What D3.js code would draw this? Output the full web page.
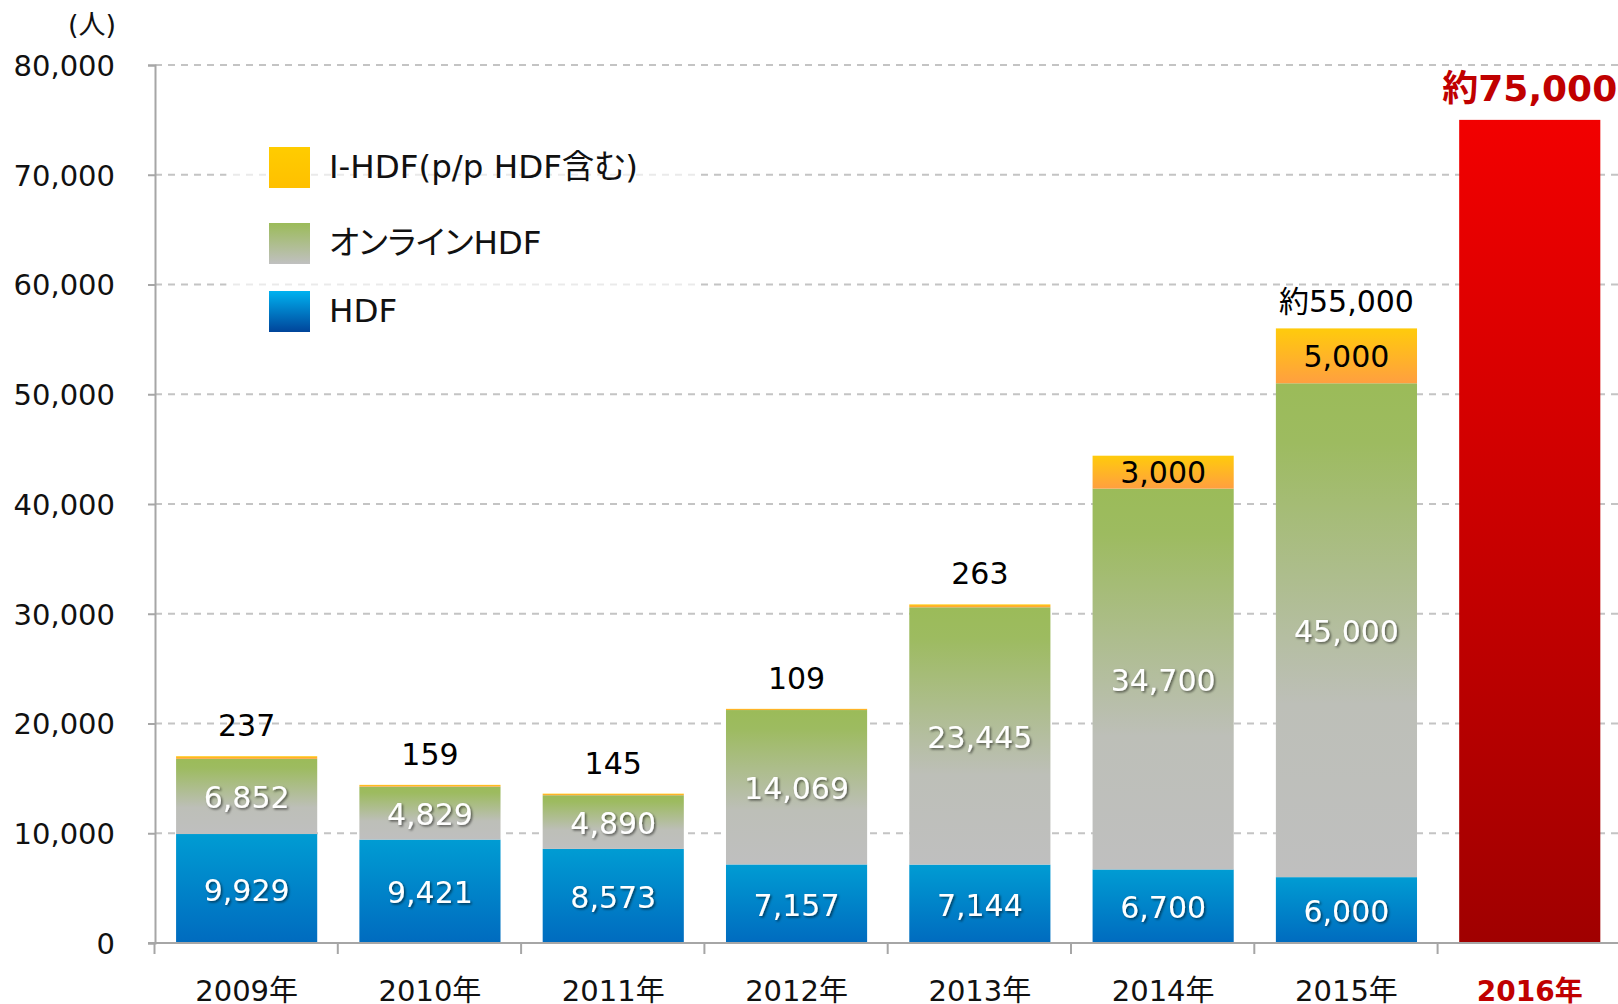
<!DOCTYPE html>
<html>
<head>
<meta charset="utf-8">
<script src="https://cdn.jsdelivr.net/npm/d3@7"></script>
<style>
body { margin: 0; background: #fff; }
svg { display: block; font-family: "DejaVu Sans", "Noto Sans CJK JP", sans-serif; }
.ley text { font-feature-settings: "palt"; }
</style>
</head>
<body>
<div id="grafica"></div>
<script>
// datos (人)
var years = ["2009年", "2010年", "2011年", "2012年", "2013年", "2014年", "2015年"];
var hdf = [9929, 9421, 8573, 7157, 7144, 6700, 6000];
var online = [6852, 4829, 4890, 14069, 23445, 34700, 45000];
var ihdf = [237, 159, 145, 109, 263, 3000, 5000];
var forecastYear = "2016年";
var forecastValue = 75000;
var forecastLabel = "約75,000";
var totalLabels = ["", "", "", "", "", "", "約55,000"];
var yTicks = [0, 10000, 20000, 30000, 40000, 50000, 60000, 70000, 80000];
var seriesNames = ["I-HDF(p/p HDF含む)", "オンラインHDF", "HDF"];

var W = 1618, H = 1004;
var x0 = 155, y0 = 943, yTop = 65;
var step = 183.3;
var fuente = "'DejaVu Sans', 'Noto Sans CJK JP', sans-serif";

var svg = d3.select("#grafica")
	.append("svg")
	.attr("width", W)
	.attr("height", H)
	.attr("id", "svgraf");

var allYears = years.concat([forecastYear]);
var x = d3.scaleBand()
	.domain(allYears)
	.range([x0, x0 + step * allYears.length])
	.paddingInner(0.23)
	.paddingOuter(0.115);
var y = d3.scaleLinear().domain([0, 80000]).range([y0, yTop]);

// gradientes
var defs = svg.append("defs");
function grad(id, stops) {
	var g = defs.append("linearGradient").attr("id", id)
		.attr("x1", 0).attr("y1", 0).attr("x2", 0).attr("y2", 1);
	stops.forEach(function (s) {
		g.append("stop").attr("offset", s[0]).attr("stop-color", s[1]);
	});
}
grad("gHdf", [[0, "#009cd3"], [1, "#006bbf"]]);
grad("gOnline", [[0, "#9bbb59"], [0.12, "#9dbb60"], [0.65, "#bdbfb8"], [1, "#bfbfbf"]]);
grad("gIhdf", [[0, "#ffcb0c"], [1, "#ff9f40"]]);
grad("gRed", [[0, "#f20000"], [1, "#a00000"]]);
grad("lHdf", [[0, "#00b2f0"], [1, "#00449a"]]);
grad("lOnline", [[0, "#9bbb59"], [1, "#c0c0c0"]]);
grad("lIhdf", [[0, "#ffcc00"], [1, "#ffc000"]]);

var sh = defs.append("filter").attr("id", "sombra")
	.attr("x", "-20%").attr("y", "-20%").attr("width", "140%").attr("height", "140%");
sh.append("feDropShadow").attr("dx", 1.5).attr("dy", 1.5)
	.attr("stdDeviation", 1).attr("flood-color", "#000").attr("flood-opacity", 0.55);

// rejilla
svg.append("g").selectAll("line")
	.data(yTicks.slice(1))
	.join("line")
	.attr("x1", x0).attr("x2", W)
	.attr("y1", function (d) { return y(d); })
	.attr("y2", function (d) { return y(d); })
	.attr("stroke", "#c4c4c4")
	.attr("stroke-width", 2)
	.attr("stroke-dasharray", "7,6");

// eje y
var yAxis = svg.append("g")
	.attr("transform", "translate(" + x0 + ",0)")
	.call(d3.axisLeft(y).tickValues(yTicks).tickSize(7).tickPadding(33)
		.tickFormat(d3.format(",")));
yAxis.select(".domain").attr("stroke", "#a6a6a6").attr("stroke-width", 2);
yAxis.selectAll(".tick line").attr("stroke", "#a6a6a6").attr("stroke-width", 2);
yAxis.selectAll(".tick text")
	.attr("font-size", 29)
	.attr("font-family", fuente)
	.attr("fill", "#111")
	.attr("dy", "0.36em");
svg.append("text")
	.attr("x", 116).attr("y", 34)
	.attr("text-anchor", "end")
	.attr("font-size", 27)
	.attr("fill", "#111")
	.text("(人)");

// barras apiladas
var rows = years.map(function (yr, i) {
	return { year: yr, hdf: hdf[i], online: online[i], ihdf: ihdf[i] };
});
var stack = d3.stack().keys(["hdf", "online", "ihdf"])(rows);
var fills = { hdf: "url(#gHdf)", online: "url(#gOnline)", ihdf: "url(#gIhdf)" };

var capas = svg.append("g").selectAll("g")
	.data(stack)
	.join("g")
	.attr("fill", function (s) { return fills[s.key]; });
capas.selectAll("rect")
	.data(function (s) { return s; })
	.join("rect")
	.attr("x", function (d) { return x(d.data.year); })
	.attr("width", x.bandwidth())
	.attr("y", function (d) { return y(d[1]); })
	.attr("height", function (d) { return y(d[0]) - y(d[1]); });

// barra 2016
svg.append("rect")
	.attr("x", x(forecastYear))
	.attr("width", x.bandwidth())
	.attr("y", y(forecastValue))
	.attr("height", y(0) - y(forecastValue))
	.attr("fill", "url(#gRed)");

// eje x
var xAxisG = svg.append("g");
xAxisG.append("line")
	.attr("x1", x0 - 7).attr("x2", W)
	.attr("y1", y0).attr("y2", y0)
	.attr("stroke", "#a6a6a6").attr("stroke-width", 2);
xAxisG.selectAll("line.tk")
	.data(allYears)
	.join("line")
	.attr("class", "tk")
	.attr("x1", function (d) { return x(d) - x.step() * x.paddingInner() / 2 - 0.5; })
	.attr("x2", function (d) { return x(d) - x.step() * x.paddingInner() / 2 - 0.5; })
	.attr("y1", y0).attr("y2", y0 + 11)
	.attr("stroke", "#a6a6a6").attr("stroke-width", 2);
xAxisG.selectAll("text")
	.data(allYears)
	.join("text")
	.attr("x", function (d) { return x(d) + x.bandwidth() / 2; })
	.attr("y", 1001)
	.attr("text-anchor", "middle")
	.attr("font-size", function (d) { return d === forecastYear ? 28 : 29; })
	.attr("font-weight", function (d) { return d === forecastYear ? "bold" : "normal"; })
	.attr("fill", function (d) { return d === forecastYear ? "#c00000" : "#111"; })
	.text(function (d) { return d; });

// etiquetas de valores
var fmt = d3.format(",");
var cx = function (d) { return x(d.data.year) + x.bandwidth() / 2; };
var etiq = svg.append("g").attr("text-anchor", "middle").attr("font-size", 30);

stack.forEach(function (s) {
	s.forEach(function (d) {
		var v = d[1] - d[0];
		var mid = (y(d[0]) + y(d[1])) / 2;
		if (s.key === "ihdf") {
			if (v >= 1000) {
				etiq.append("text").attr("x", cx(d)).attr("y", mid + 11)
					.attr("fill", "#000").text(fmt(v));
			} else {
				etiq.append("text").attr("x", cx(d)).attr("y", y(d[1]) - 20)
					.attr("fill", "#000").text(fmt(v));
			}
		} else {
			etiq.append("text").attr("x", cx(d)).attr("y", mid + 12)
				.attr("fill", "#fff").attr("filter", "url(#sombra)").text(fmt(v));
		}
	});
});
stack[2].forEach(function (d, i) {
	if (totalLabels[i]) {
		etiq.append("text").attr("x", cx(d)).attr("y", y(d[1]) - 16)
			.attr("fill", "#000").text(totalLabels[i]);
	}
});
svg.append("text")
	.attr("x", x(forecastYear) + x.bandwidth() / 2)
	.attr("y", y(forecastValue) - 19)
	.attr("text-anchor", "middle")
	.attr("font-size", 36)
	.attr("font-weight", "bold")
	.attr("fill", "#c00000")
	.text(forecastLabel);

// leyenda
var ley = svg.append("g").attr("class", "ley");
ley.append("rect")
	.attr("x", 226).attr("y", 118).attr("width", 471).attr("height", 240)
	.attr("fill", "#fff").attr("fill-opacity", 0.65);
var legFill = ["url(#lIhdf)", "url(#lOnline)", "url(#lHdf)"];
var legY = [147, 223, 291];
seriesNames.forEach(function (n, i) {
	ley.append("rect")
		.attr("x", 269).attr("y", legY[i]).attr("width", 41).attr("height", 41)
		.attr("fill", legFill[i]);
	ley.append("text")
		.attr("x", 329).attr("y", legY[i] + 31)
		.attr("font-size", 32.5)
		.attr("fill", "#111")
		.text(n);
});
</script>
</body>
</html>
